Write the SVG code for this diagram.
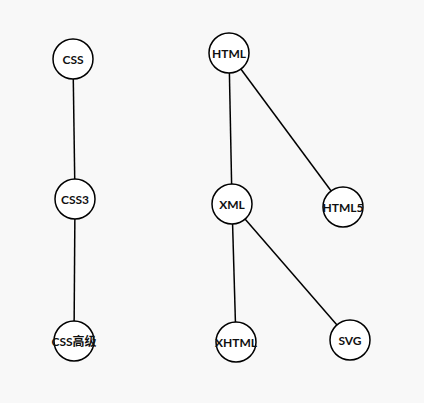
<svg xmlns="http://www.w3.org/2000/svg" width="424" height="403" viewBox="0 0 424 403">
  <style>
    .link { stroke: #000; stroke-width: 1.5; fill: none; }
    .node circle { fill: #fff; stroke: #000; stroke-width: 1.5; }
    .node text { font-family: Lato, "Noto Sans CJK SC", sans-serif; font-weight: bold; font-size: 12px; fill: #111; text-anchor: middle; dominant-baseline: central; }
  </style>
  <rect width="424" height="403" fill="#f8f8f8"/>
  <g id="links">
    <line class="link" x1="73" y1="59" x2="75" y2="199"/>
    <line class="link" x1="75" y1="199" x2="74" y2="341"/>
    <line class="link" x1="229" y1="53" x2="232" y2="204"/>
    <line class="link" x1="229" y1="53" x2="343" y2="207"/>
    <line class="link" x1="232" y1="204" x2="236" y2="342"/>
    <line class="link" x1="232" y1="204" x2="350" y2="340"/>
  </g>
  <g id="node-css" class="node"><circle cx="73" cy="59" r="20"/><text x="73" y="59">CSS</text></g>
  <g id="node-css3" class="node"><circle cx="75" cy="199" r="20"/><text x="75" y="199">CSS3</text></g>
  <g id="node-css-adv" class="node"><circle cx="74" cy="341" r="20"/><text x="74" y="341">CSS高级</text></g>
  <g id="node-html" class="node"><circle cx="229" cy="53" r="20"/><text x="229" y="53">HTML</text></g>
  <g id="node-xml" class="node"><circle cx="232" cy="204" r="20"/><text x="232" y="204">XML</text></g>
  <g id="node-html5" class="node"><circle cx="343" cy="207" r="20"/><text x="343" y="207">HTML5</text></g>
  <g id="node-xhtml" class="node"><circle cx="236" cy="342" r="20"/><text x="236" y="342">XHTML</text></g>
  <g id="node-svg" class="node"><circle cx="350" cy="340" r="20"/><text x="350" y="340">SVG</text></g>
</svg>
